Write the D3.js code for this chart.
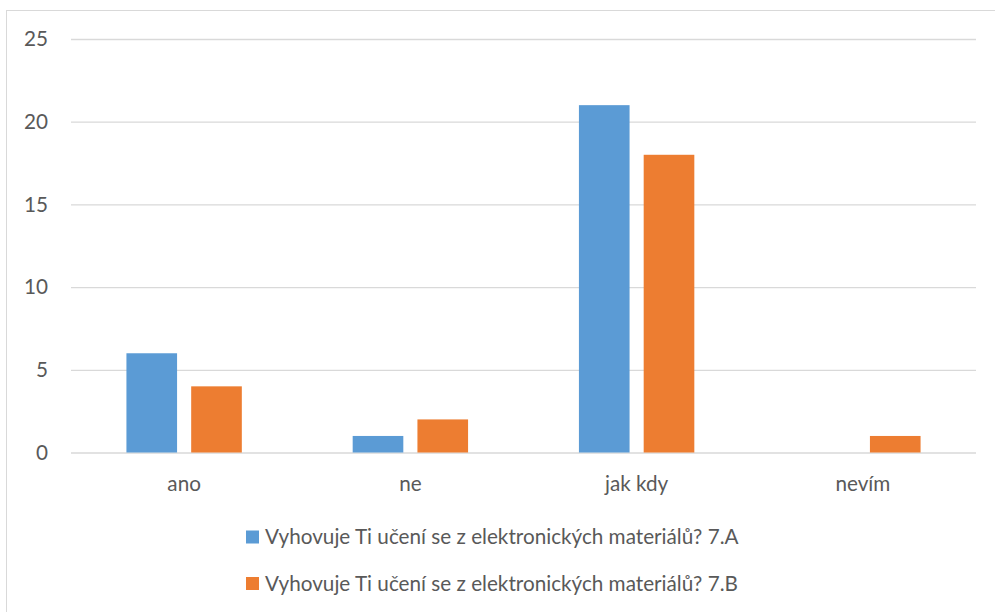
<!DOCTYPE html>
<html>
<head>
<meta charset="utf-8">
<script src="https://cdn.jsdelivr.net/npm/d3@7"></script>
<style>
  html, body { margin: 0; padding: 0; background: #fff; }
  svg { display: block; }
  text { font-family: Lato, "Open Sans", sans-serif; fill: #595959; }
</style>
</head>
<body>
<svg id="chart" width="995" height="612"></svg>
<script>
// Answers per category for the two classes
const categories = ["ano", "ne", "jak kdy", "nevím"];
const seriesNames = [
  "Vyhovuje Ti učení se z elektronických materiálů? 7.A",
  "Vyhovuje Ti učení se z elektronických materiálů? 7.B"
];
const values7A = [6, 1, 21, 0];
const values7B = [4, 2, 18, 1];
const yTicks = [0, 5, 10, 15, 20, 25];
const colors = ["#5B9BD5", "#ED7D31"];

const seriesValues = [values7A, values7B];
const fontSize = 20.7;

const svg = d3.select("#chart");

// Chart frame
svg.append("rect")
  .attr("x", 6.5).attr("y", 10.5)
  .attr("width", 1000).attr("height", 700)
  .attr("fill", "#fff").attr("stroke", "#D9D9D9").attr("stroke-width", 1);

const plot = { left: 71, right: 976, top: 39, bottom: 452.5 };

const y = d3.scaleLinear().domain([0, 25]).range([plot.bottom, plot.top]);
const x0 = d3.scaleBand().domain(categories).range([plot.left, plot.right]).padding(0);
const groupW = x0.bandwidth() * 0.51;
const x1 = d3.scaleBand().domain(d3.range(seriesNames.length))
  .range([(x0.bandwidth() - groupW) / 2, (x0.bandwidth() + groupW) / 2])
  .paddingInner(0.218).paddingOuter(0);

// Horizontal gridlines with value labels
const yAxis = d3.axisLeft(y).tickValues(yTicks)
  .tickSize(-(plot.right - plot.left)).tickPadding(23).tickFormat(d3.format("d"));
const gy = svg.append("g").attr("transform", `translate(${plot.left},0)`).call(yAxis);
gy.select(".domain").remove();
gy.selectAll(".tick line").attr("stroke", "#D9D9D9").attr("stroke-width", 1.3);
gy.selectAll(".tick text").attr("font-size", fontSize).attr("fill", "#595959")
  .style("font-family", "Lato, 'Open Sans', sans-serif");

// Bars
const groups = svg.append("g").selectAll("g")
  .data(categories)
  .join("g")
  .attr("transform", d => `translate(${x0(d)},0)`);

groups.selectAll("rect")
  .data((c, i) => seriesValues.map((vals, s) => ({ s, v: vals[i] })))
  .join("rect")
  .attr("x", d => x1(d.s))
  .attr("width", x1.bandwidth())
  .attr("y", d => y(d.v))
  .attr("height", d => y(0) - y(d.v))
  .attr("fill", d => colors[d.s]);

// Category axis labels
const xAxis = d3.axisBottom(x0).tickSize(0).tickPadding(24);
const gx = svg.append("g").attr("transform", `translate(0,${plot.bottom})`).call(xAxis);
gx.select(".domain").remove();
gx.selectAll(".tick text").attr("font-size", fontSize).attr("fill", "#595959")
  .style("font-family", "Lato, 'Open Sans', sans-serif");

// Legend
const legend = svg.append("g");
const legendRows = [537, 583.5];
seriesNames.forEach((name, i) => {
  const row = legend.append("g").attr("transform", `translate(246,${legendRows[i]})`);
  row.append("rect").attr("x", 0).attr("y", -6.5).attr("width", 13).attr("height", 13)
    .attr("fill", colors[i]);
  row.append("text").attr("x", 19).attr("y", 0).attr("dy", "0.35em")
    .attr("font-size", fontSize).text(name);
});
</script>
</body>
</html>
